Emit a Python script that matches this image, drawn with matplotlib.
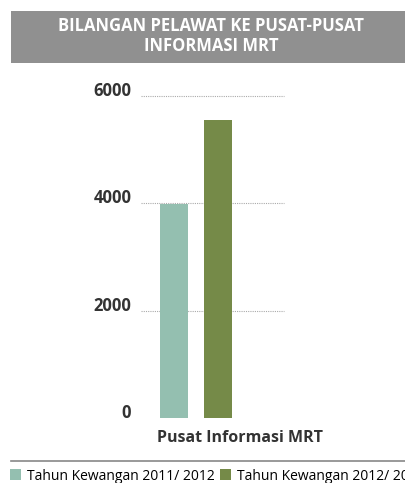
import matplotlib
matplotlib.use("Agg")
import matplotlib.pyplot as plt
from matplotlib.patches import Rectangle, Patch
from matplotlib.lines import Line2D

categories = ["Pusat Informasi MRT"]
series_names = ["Tahun Kewangan 2011/ 2012", "Tahun Kewangan 2012/ 2013"]
values_2011 = [3980]
values_2012 = [5560]
yticks = [0, 2000, 4000, 6000]
title = "BILANGAN PELAWAT KE PUSAT-PUSAT\nINFORMASI MRT"
colors = ["#94bfb0", "#758a48"]

W, H = 405, 483
fig = plt.figure(figsize=(W / 100, H / 100), dpi=100)
plt.rcParams['font.family'] = ['Open Sans', 'DejaVu Sans']

def fx(px):
    return px / W

def fy(py):
    return 1 - py / H

# title banner
fig.patches.append(Rectangle((fx(11), fy(63)), fx(405) - fx(11), fy(11) - fy(63),
                             transform=fig.transFigure, facecolor="#909090",
                             edgecolor="none", zorder=0))
fig.text(fx(211), fy(36), title, ha="center", va="center", color="white",
         fontsize=12, fontweight="bold", linespacing=1.1)

# axes
left, right, top, bottom = 141, 284, 96, 418
ax = fig.add_axes([fx(left), fy(bottom), fx(right) - fx(left), fy(top) - fy(bottom)])
ax.set_ylim(0, 6000)
ax.set_xlim(-0.55, 0.88)
w = 0.28
ax.bar([-0.22], values_2011, width=w, color=colors[0], zorder=2)
ax.bar([0.22], values_2012, width=w, color=colors[1], zorder=2)
for t in yticks[1:]:
    ax.axhline(t, color="#aaaaaa", linestyle=(0, (1, 1)), linewidth=0.8, zorder=1,
               clip_on=False)
ax.set_yticks(yticks)
ax.set_yticklabels([str(t) for t in yticks], fontsize=12, fontweight="bold",
                   color="#333333")
for lbl in ax.get_yticklabels():
    lbl.set_va("baseline")
ax.tick_params(axis="y", length=0, pad=7)
ax.set_xticks([])
for s in ax.spines.values():
    s.set_visible(False)
ax.patch.set_alpha(0)

fig.text(fx(240.5), fy(438), categories[0], ha="center", va="center",
         fontsize=11.5, fontweight="bold", color="#333333")

# separator line
fig.add_artist(Line2D([fx(11), fx(405)], [fy(461), fy(461)], transform=fig.transFigure,
                      color="#888888", linewidth=1.2))

handles = [Patch(facecolor=colors[0]), Patch(facecolor=colors[1])]
fig.legend(handles, series_names, loc="center left", ncol=2,
           bbox_to_anchor=(fx(10), fy(476)), frameon=False, fontsize=10,
           handlelength=0.8, handleheight=0.8, handletextpad=0.4,
           columnspacing=0.4, borderaxespad=0, borderpad=0)

fig.savefig("out.png", dpi=100)
